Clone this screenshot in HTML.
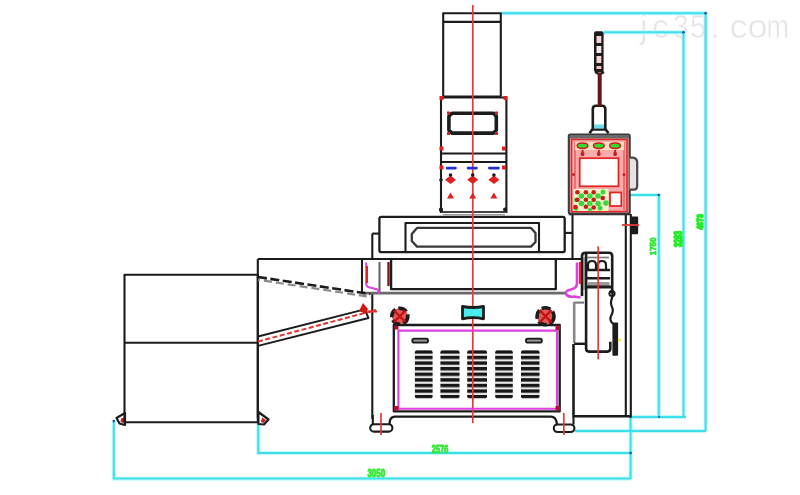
<!DOCTYPE html>
<html><head><meta charset="utf-8">
<style>
html,body{margin:0;padding:0;background:#fff;}
body{width:800px;height:495px;overflow:hidden;position:relative;font-family:"Liberation Sans",sans-serif;}
svg{position:absolute;left:0;top:0;filter:blur(0.4px);}
</style></head>
<body>
<svg width="800" height="495" viewBox="0 0 800 495">
<defs>
  <pattern id="lvp" x="0" y="350.2" width="40" height="5.6" patternUnits="userSpaceOnUse">
    <rect x="0" y="0" width="40" height="5.6" fill="#161616"/>
    <rect x="0" y="3.4" width="40" height="2.2" fill="#e8e8e8"/>
  </pattern>
</defs>
<!-- watermark -->
<g font-family="Liberation Sans" font-size="33" fill="#e2e2e2" stroke="#ffffff" stroke-width="0.7">
  <text transform="translate(640 38.3)">j</text>
  <text transform="translate(652.2 38.3)">c</text>
  <text transform="translate(672.9 38.3) scale(0.85 1)">3</text>
  <text transform="translate(689.9 38.3) scale(0.88 1)">5</text>
  <text transform="translate(710.5 38.3)">.</text>
  <text transform="translate(729.4 38.3) scale(1.1 1)">c</text>
  <text transform="translate(747.6 38.3) scale(1.1 1)">o</text>
  <text transform="translate(766.5 38.3) scale(0.82 1)">m</text>
</g>

<!-- cyan dimension lines -->
<g stroke="#c4f8fc" stroke-width="4.2" fill="none">
  <path d="M501 13.2H705.6V431"/>
  <path d="M604 32.3H683.5V417"/>
  <path d="M630 195H658.8V417"/>
  <path d="M630.6 417H686"/>
  <path d="M575 430.9H706"/>
  <path d="M630.6 417V479"/>
  <path d="M258.3 424V453H630.6"/>
  <path d="M113.8 421V478.6H630.6"/>
</g>
<g stroke="#3edfec" stroke-width="2" fill="none">
  <path d="M501 13.2H705.6V431"/>
  <path d="M604 32.3H683.5V417"/>
  <path d="M630 195H658.8V417"/>
  <path d="M630.6 417H686"/>
  <path d="M575 430.9H706"/>
  <path d="M630.6 417V479"/>
  <path d="M258.3 424V453H630.6"/>
  <path d="M113.8 421V478.6H630.6"/>
</g>
<g fill="#1850a0">
  <circle cx="705.6" cy="13.2" r="1.3"/><circle cx="683.5" cy="32.3" r="1.3"/><circle cx="658.8" cy="195" r="1.3"/>
  <circle cx="630.6" cy="417" r="1.3"/><circle cx="630.6" cy="453" r="1.3"/><circle cx="659" cy="417" r="1"/>
  <circle cx="113.8" cy="421" r="1.3"/><circle cx="258.3" cy="422" r="1.3"/>
</g>
<!-- feet triangles -->
<path d="M125 413L116.5 418L119.5 423.5L125 425Z" fill="#fff" stroke="#1c1c1c" stroke-width="2.2" stroke-linejoin="round"/><path d="M121 418.5L124 417.5V423L120.5 422Z" fill="#c02020"/>
<path d="M258.4 412L268.5 419.5L264 424.5L258.4 424Z" fill="#fff" stroke="#1c1c1c" stroke-width="2.2" stroke-linejoin="round"/><path d="M262 417.5L266 420L263.5 423L261 422Z" fill="#c02020"/>
<!-- black linework -->
<g stroke="#1c1c1c" stroke-width="2.1" fill="none" stroke-linejoin="round">
  <!-- left box -->
  <rect x="124.5" y="274.7" width="133.3" height="147.6"/>
  <path d="M124.5 342.7H257.8"/>
  <!-- second box -->
  <path d="M257.8 259H582"/>
  <path d="M257.8 259V418"/>
  <path d="M372.3 233.6V259M372.3 293V419"/>
  <path d="M372.3 233.6H379.4"/>
  <!-- column top -->
  <path d="M443.2 96.5V13.2H500.8V96.5"/>
  <path d="M443.2 21.9H500.8"/>
  <path d="M443.8 96.5H500.8"/>
  <!-- head -->
  <path d="M441 97.5V213M506.4 97.5V213"/>
  <path d="M441 97.5H506.4"/>
  <path d="M441 153.5H506.4M441 162H506.4"/>
  <path d="M441 212H506.4" stroke="#444" stroke-width="1.8"/><path d="M443 214.6H505" stroke="#999" stroke-width="1.4"/>
  <path d="M452 113.3H493.5L496.3 116.3V130.1L493.5 133.1H452L448.9 130.1V116.3Z" stroke-width="3.6"/>
  <!-- upper housing -->
  <rect x="379.4" y="216.8" width="185.3" height="35.4" rx="2" stroke-width="2.3"/>
  <path d="M405.5 252.2V223H539V252.2" stroke-width="2.1"/>
  <path d="M417 227.9H531L535.5 233V242L531 246.6H417L411.8 241V234Z" stroke="#383838" stroke-width="2.3"/>
  <path d="M564.7 232.9H572.5"/>
  <path d="M572.5 214V258.8"/>
  <!-- lower housing -->
  <path d="M362 259V293"/>
  <path d="M379.5 262V293" stroke="#666"/>
  <path d="M391.1 259V289.2H555.8V259" stroke-width="2.3"/>
  <path d="M362 293.2H566" stroke="#6a6a6a" stroke-width="2.8"/>
  <!-- cabinet -->
  <path d="M393.8 325V411.4H559.7V325H393.8Z" stroke-width="2.3"/>
  <path d="M389.5 424Q389.5 416.6 395 416.6H551Q556 416.6 557 424" stroke-width="2.4"/>
  <path d="M573.5 344V416.3H630.8" stroke-width="2.6"/>
  <path d="M574 302.6H584" stroke="#777"/>
  <!-- stand right -->
  <path d="M625.8 214V417M630.8 214V417"/>
  <path d="M568.8 213.8H630.2" stroke-width="3"/>
  <!-- motor box -->
  <path d="M582 296V256Q582 252.8 585.5 252.8H609Q612.2 252.8 612.2 256V291" stroke-width="2.6"/>
  <path d="M583.9 257V290" stroke="#8a8a8a" stroke-width="1.6"/>
  <path d="M586.1 253V348.5Q586.1 351.6 589 351.6H607.3Q610.3 351.6 610.3 348.6V341.7" stroke-width="2.6"/>
  <path d="M587 257.5H609" stroke="#777" stroke-width="1.6"/>
  <path d="M588 269V265Q588 261 592 261Q596 261 596 265V269M598 269V265Q598 261 602 261Q606 261 606 265V269" stroke-width="2.2"/>
  <path d="M586.1 270H610M586.1 278.3H610" stroke-width="2.4"/>
  <rect x="587" y="282" width="22.5" height="4" fill="#9a9a9a" stroke="none"/>
  <path d="M586.1 287H611" stroke-width="3"/>
  <path d="M574.2 302V343.1" stroke="#888" stroke-width="2.6"/>
  <path d="M574.2 343.8H585.5" stroke-width="2.4"/>
  <path d="M610 291Q614 293 612 298Q610 303 612 307Q614 311 611 316Q609 320 613 324" stroke-width="2.2"/>
  <circle cx="612" cy="293.5" r="2.6" stroke-width="2"/>
  <rect x="612.4" y="322.6" width="5.7" height="33.2" rx="1" fill="#1c1c1c" stroke="none"/>
  <circle cx="619.5" cy="340" r="1.6" fill="#e8e840" stroke="none"/>
  <!-- inclined conveyor -->
  <path d="M258 336.5L364.7 309.3L368.5 318L258 345.8" stroke-width="1.9"/>
  
  <path d="M258 279.8L371 297" stroke="#8a8a8a" stroke-dasharray="8 4" stroke-dashoffset="6" stroke-width="2.2"/>
  <path d="M258 277L370.3 294" stroke-dasharray="9 3.5" stroke-width="2.6"/>
  <!-- feet -->
  <rect x="370.2" y="424.2" width="22.2" height="7.4" rx="3.7"/>
  <path d="M372.8 415V424.2"/>
  <rect x="553.8" y="424.5" width="20.6" height="7.5" rx="3.7"/>
  <path d="M573.5 416V424.5"/>
  <!-- panel -->
  <rect x="568.8" y="134.6" width="60.9" height="79" rx="1.5" fill="#f6acac" stroke="#3a3a3a" stroke-width="2.1"/>
  <path d="M629.7 157.6H633Q637.2 158.5 637.2 162V186Q637.2 189.7 634 189.7H629.7" fill="#e4e4e4" stroke="#484848" stroke-width="2.2"/>
  <rect x="631.5" y="217.5" width="5.6" height="15.7" fill="#1c1c1c"/>
  <!-- light tower -->
  <path d="M592.8 129.5V109Q592.8 105.7 596 105.7H602Q605.3 105.7 605.3 109V129.5" stroke-width="2.6"/>
  <path d="M589.5 133.2L592.3 129.5H605.7L608.5 133.2" stroke-width="2.6"/>
  <path d="M595 72L599.7 74.5L604 72"/>
</g>
<rect x="594" y="124.5" width="10" height="4" fill="#70d8e8"/>
<!-- light stack -->
<rect x="594" y="31.3" width="9.6" height="41" rx="2" fill="#1c1c1c"/>
<rect x="596.5" y="36" width="4.8" height="7" fill="#f4d4d4"/>
<rect x="596.5" y="46" width="4.8" height="7" fill="#f8eaea"/>
<rect x="596.5" y="56" width="4.8" height="7" fill="#f4d4d4"/>
<rect x="596.5" y="66" width="4.8" height="3" fill="#f4c4c4"/>

<!-- control panel internals -->
<g>
  <rect x="570" y="135" width="59" height="3.6" fill="#6a6a6a"/>
  <path d="M571.5 139.5H627V211.5H571.5Z" fill="none" stroke="#e02828" stroke-width="1.6"/>
  <path d="M575 142V210M624 142V210" stroke="#f07070" stroke-width="2"/>
  <rect x="575" y="142" width="49" height="8" fill="#f8dcc0"/>
  <ellipse cx="582.5" cy="145.8" rx="5.3" ry="2.7" fill="#30e030" stroke="#c82020" stroke-width="1.5"/>
  <ellipse cx="598.8" cy="145.8" rx="5.3" ry="2.7" fill="#30e030" stroke="#c82020" stroke-width="1.5"/>
  <ellipse cx="615.1" cy="145.8" rx="5.3" ry="2.7" fill="#30e030" stroke="#c82020" stroke-width="1.5"/>
  <path d="M582.5 150V156M598.8 150V156M615.1 150V156" stroke="#c82020" stroke-width="2"/>
  <circle cx="582.5" cy="154" r="2" fill="#c82020"/>
  <circle cx="598.8" cy="154" r="2" fill="#c82020"/>
  <circle cx="615.1" cy="154" r="2" fill="#c82020"/>
  <rect x="579.7" y="158.2" width="38.8" height="28.1" fill="#fff" stroke="#e02828" stroke-width="1.8"/>
  <rect x="573.5" y="189" width="35" height="22" fill="#f4f2c8"/>
  <g fill="#3ad83a">
    <circle cx="581.5" cy="196" r="2.8"/><circle cx="589.8" cy="196" r="2.8"/><circle cx="598" cy="196" r="2.8"/>
    <circle cx="581.5" cy="203.5" r="2.8"/><circle cx="589.8" cy="203.5" r="2.8"/><circle cx="598" cy="203.5" r="2.8"/>
    <circle cx="576" cy="200" r="2.2"/><circle cx="603" cy="192" r="2.5"/><circle cx="606" cy="203" r="2.8"/><circle cx="600" cy="208" r="2.5"/>
    <circle cx="576" cy="208.5" r="2.2"/><circle cx="590" cy="209.5" r="2"/>
  </g>
  <g fill="#c81c1c">
    <circle cx="577.4" cy="192.2" r="2.3"/><circle cx="585.9" cy="192.2" r="2.3"/><circle cx="593.7" cy="192.2" r="2.3"/>
    <circle cx="577.4" cy="199.8" r="2.3"/><circle cx="585.9" cy="199.8" r="2.3"/><circle cx="593.7" cy="199.8" r="2.3"/><circle cx="602.7" cy="198" r="2.3"/>
    <circle cx="575.5" cy="207" r="2.3"/><circle cx="585.9" cy="206.8" r="2.3"/><circle cx="593.7" cy="207.5" r="2.3"/>
  </g>
  <rect x="610" y="192.5" width="11.3" height="13.5" fill="#fff" stroke="#e02828" stroke-width="1.8"/>
  <circle cx="573.5" cy="174.5" r="1.5" fill="#c82020"/>
  <circle cx="624" cy="174.5" r="1.5" fill="#c82020"/>
</g>

<!-- red center lines -->
<g stroke="#e43a3a" stroke-width="1.7" fill="none">
  <path d="M472.8 5V423"/>
  <path d="M598.2 246.3V359.4"/>
  <path d="M381 413V435M563.8 413V435"/>
  <path d="M622 225H639" stroke-width="1.8"/>
</g>
<path d="M258 341.5L376 310" stroke="#e83030" stroke-width="2" stroke-dasharray="5 2.5"/>
<path d="M359 311L363 303L368 309L366 314Z" fill="#d01818"/>
<path d="M368 311.5H377" stroke="#e83030" stroke-width="2"/>
<!-- pole -->
<path d="M599.7 72.6V106" stroke="#6a1515" stroke-width="4"/>

<!-- head red/blue details -->
<g fill="#e02020">
  <rect x="447" y="111.5" width="3" height="3"/><rect x="495" y="111.5" width="3" height="3"/><rect x="447" y="132" width="3" height="3"/><rect x="495" y="132" width="3" height="3"/>
  <rect x="439.5" y="96" width="4" height="4"/><rect x="503.5" y="96" width="4" height="4"/>
  <rect x="439.5" y="146.5" width="4" height="4"/><rect x="502" y="146.5" width="4" height="4"/>
  <rect x="439.5" y="165.5" width="4" height="4"/><rect x="502" y="165.5" width="4" height="4"/>
  <path d="M450.5 175.5L456 179.7L450.5 184L445 179.7Z"/>
  <path d="M472.7 175.5L478.2 179.7L472.7 184L467.2 179.7Z"/>
  <path d="M493.9 175.5L499.4 179.7L493.9 184L488.4 179.7Z"/>
  <path d="M450.5 192.5L454 198.5H447Z"/>
  <path d="M472.7 192.5L476.2 198.5H469.2Z"/>
  <path d="M493.9 192.5L497.4 198.5H490.4Z"/>
</g>
<g fill="#1c1c1c">
  <circle cx="450.5" cy="175" r="1.8"/><circle cx="472.7" cy="175" r="1.8"/><circle cx="493.9" cy="175" r="1.8"/>
  <circle cx="441" cy="180" r="1.8"/><circle cx="441" cy="209.5" r="2"/><circle cx="505" cy="209.5" r="2"/>
  <circle cx="441" cy="210" r="2"/>
</g>
<g stroke="#2030d0" stroke-width="2.6" stroke-linecap="round">
  <path d="M447 168.1H455.5M468 168.1H476.5M489.3 168.1H498.5"/>
</g>

<!-- magenta -->
<g stroke="#e040e0" stroke-width="2.1" fill="none">
  <path d="M398.4 330.6H557V408.7H398.4Z"/>
  <path d="M366.2 262.5V284Q366.5 287.5 371 287.8L377.5 289.5Q379 291 379 294"/>
  <path d="M577 262.5V283Q577 288.5 571 289.5Q565 290.5 566 294Q568 297.5 574 296.5L580.5 297.5" stroke-width="2.6"/>
</g>
<path d="M367 266V283" stroke="#e82020" stroke-width="2"/>
<path d="M388.5 262V286" stroke="#801818" stroke-width="2.4"/>
<path d="M580 262V284" stroke="#e82020" stroke-width="2.2"/>

<g fill="#b01030">
  <rect x="394" y="406" width="4.5" height="4.5"/><rect x="555.5" y="406" width="4.5" height="4.5"/>
  <rect x="555.5" y="325.5" width="4.5" height="4.5"/><rect x="394.5" y="325.5" width="4" height="4"/>
</g>
<!-- cyan box -->
<path d="M462.5 306.5Q473 308.5 483.5 306.5V318.8Q473 316.5 462.5 318.8Z" fill="#48ecec" stroke="#1c1c1c" stroke-width="2.8" stroke-linejoin="round"/>

<!-- knobs -->
<g>
  <circle cx="399.8" cy="316.2" r="8" fill="#dc5a5a" stroke="#1c1c1c" stroke-width="3.6" stroke-dasharray="9 3"/>
  <path d="M394 310.5L405.5 322M405.5 310.5L394 322" stroke="#c81010" stroke-width="2.4"/>
  <circle cx="545.5" cy="316.2" r="8.5" fill="#dc5a5a" stroke="#1c1c1c" stroke-width="3.6" stroke-dasharray="9 3"/>
  <path d="M539.5 310L551.5 322.5M551.5 310L539.5 322.5" stroke="#c81010" stroke-width="2.4"/>
</g>

<!-- louvers -->
<g fill="url(#lvp)">
  <rect x="414.9" y="350.2" width="17.7" height="48.4" rx="2"/>
  <rect x="440.4" y="350.2" width="19.1" height="48.4" rx="2"/>
  <rect x="467.2" y="350.2" width="19.8" height="48.4" rx="2"/>
  <rect x="495.2" y="350.2" width="17.6" height="48.4" rx="2"/>
  <rect x="521" y="350.2" width="18.5" height="48.4" rx="2"/>
</g>
<rect x="411.4" y="337.8" width="17.6" height="5.7" rx="2.8" fill="#1c1c1c"/>
<rect x="413.5" y="339.6" width="13.4" height="2" fill="#999"/>
<rect x="525" y="337.8" width="17.8" height="5.7" rx="2.8" fill="#1c1c1c"/>
<rect x="527" y="339.6" width="13.8" height="2" fill="#999"/>
<!-- redraw red centre over louvers -->
<path d="M472.8 350V400" stroke="#e43a3a" stroke-width="1.7"/>

<!-- dimension texts -->
<g fill="#30ea30" stroke="#30ea30" stroke-width="0.9" font-family="Liberation Sans" font-weight="bold">
  <text x="431.8" y="452.6" font-size="10.5" textLength="16.5" lengthAdjust="spacingAndGlyphs">2576</text>
  <text x="367.4" y="476.5" font-size="10.5" textLength="17.7" lengthAdjust="spacingAndGlyphs">3050</text>
</g>
<g fill="#22ec22" stroke="#22ec22" stroke-width="1.5" font-family="Liberation Sans" font-weight="bold">
  <text transform="translate(682.3 247) rotate(-90)" font-size="11" textLength="16" lengthAdjust="spacingAndGlyphs">3283</text>
  <text transform="translate(702.8 229.6) rotate(-90)" font-size="9.5" textLength="15.4" lengthAdjust="spacingAndGlyphs">4073</text>
</g>
<g fill="#30e830" stroke="#30e830" stroke-width="0.8" font-family="Liberation Sans" font-weight="bold">
  <text transform="translate(655.6 255.2) rotate(-90)" font-size="9" textLength="17.6" lengthAdjust="spacingAndGlyphs">1750</text>
</g>
</svg>
</body></html>
